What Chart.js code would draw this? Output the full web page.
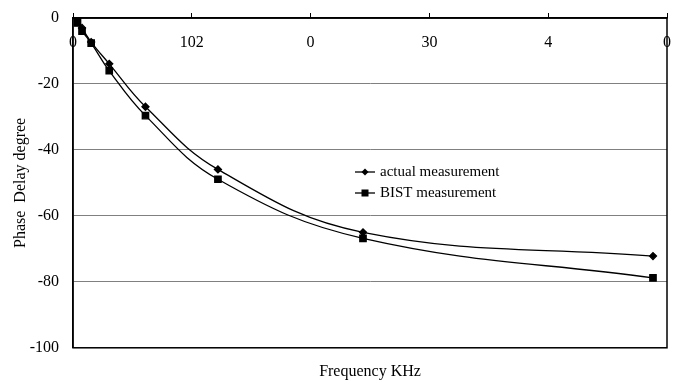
<!DOCTYPE html>
<html>
<head>
<meta charset="utf-8">
<script src="https://cdn.jsdelivr.net/npm/chart.js@4.4.1/dist/chart.umd.min.js"></script>
<style>
  html, body { margin: 0; padding: 0; background: #fff; }
  #wrap { width: 675px; height: 383px; }
</style>
</head>
<body>
<div id="wrap"><canvas id="chart" width="675" height="383"></canvas></div>
<script>
// Data
const freqPoints = [38, 76, 153, 305, 610, 1220, 2441, 4882];
const actualPhase = [0, -3, -7.3, -13.9, -26.9, -45.9, -65.0, -72.2];
const bistPhase = [-1.5, -4, -7.6, -16.0, -29.6, -48.9, -66.8, -78.8];
const xTickLabels = ['0', '102', '0', '30', '4', '0'];
const seriesNames = ['actual measurement', 'BIST measurement'];

const FONT = 'Liberation Serif, Times New Roman, serif';

function toXY(xs, ys) {
    return xs.map((x, i) => ({ x: x, y: ys[i] }));
}

// Box around the plot area
const frame = {
    id: 'frame',
    afterDraw(chart) {
        const a = chart.chartArea;
        const ctx = chart.ctx;
        ctx.save();
        ctx.strokeStyle = '#000';
        ctx.lineWidth = 1.5;
        ctx.strokeRect(a.left, a.top, a.right - a.left, a.bottom - a.top);
        ctx.restore();
    }
};

// Legend drawn inside the plot
const innerLegend = {
    id: 'innerLegend',
    afterDraw(chart) {
        const ctx = chart.ctx;
        ctx.save();
        ctx.font = '15px ' + FONT;
        ctx.textBaseline = 'middle';
        const x0 = 355, y0 = 172, gap = 21;
        chart.data.datasets.forEach((ds, i) => {
            const y = y0 + i * gap;
            ctx.strokeStyle = '#000';
            ctx.lineWidth = 1.3;
            ctx.beginPath();
            ctx.moveTo(x0, y);
            ctx.lineTo(x0 + 20, y);
            ctx.stroke();
            ctx.fillStyle = '#000';
            if (ds.pointStyle === 'rect') {
                ctx.fillRect(x0 + 6.5, y - 3.5, 7, 7);
            } else {
                ctx.beginPath();
                ctx.moveTo(x0 + 10, y - 3.5);
                ctx.lineTo(x0 + 13.5, y);
                ctx.lineTo(x0 + 10, y + 3.5);
                ctx.lineTo(x0 + 6.5, y);
                ctx.closePath();
                ctx.fill();
            }
            ctx.fillText(ds.label, x0 + 25, y);
        });
        ctx.restore();
    }
};

new Chart(document.getElementById('chart'), {
    type: 'scatter',
    data: {
        datasets: [
            {
                label: seriesNames[0],
                data: toXY(freqPoints, actualPhase),
                showLine: true,
                borderColor: '#000',
                backgroundColor: '#000',
                borderWidth: 1.3,
                tension: 0.4,
                pointStyle: 'rectRot',
                pointRadius: 3.5,
                pointHoverRadius: 3.5
            },
            {
                label: seriesNames[1],
                data: toXY(freqPoints, bistPhase),
                showLine: true,
                borderColor: '#000',
                backgroundColor: '#000',
                borderWidth: 1.3,
                tension: 0.4,
                pointStyle: 'rect',
                pointRadius: 4.5,
                pointHoverRadius: 4.5
            }
        ]
    },
    options: {
        responsive: false,
        animation: false,
        layout: { padding: { top: 0, right: 8, bottom: 0, left: 0 } },
        plugins: {
            legend: { display: false },
            tooltip: { enabled: false },
            title: {
                display: true,
                position: 'bottom',
                fullSize: false,
                text: 'Frequency KHz',
                color: '#000',
                font: { family: FONT, size: 16, weight: 'normal' },
                padding: { top: 14, bottom: 2 }
            }
        },
        scales: {
            x: {
                type: 'linear',
                position: 'top',
                min: 0,
                max: 5000,
                afterFit(s) {
                    s.height = 18;
                    s.paddingLeft = 0;
                    s.paddingRight = 0;
                },
                border: { display: true, color: '#000', width: 1.5 },
                grid: {
                    drawOnChartArea: false,
                    drawTicks: true,
                    tickLength: 5,
                    color: '#000'
                },
                ticks: {
                    stepSize: 1000,
                    mirror: true,
                    padding: 15,
                    color: '#000',
                    font: { family: FONT, size: 16 },
                    callback: (v) => xTickLabels[Math.round(v / 1000)]
                }
            },
            y: {
                min: -100,
                max: 0,
                afterFit(s) {
                    s.width = 73;
                    s.paddingTop = 0;
                    s.paddingBottom = 0;
                },
                border: { display: true, color: '#000', width: 1.5 },
                grid: {
                    drawTicks: false,
                    color: '#808080',
                    lineWidth: 1
                },
                ticks: {
                    stepSize: 20,
                    padding: 14,
                    color: '#000',
                    font: { family: FONT, size: 16 }
                },
                title: {
                    display: true,
                    text: 'Phase  Delay degree',
                    color: '#000',
                    font: { family: FONT, size: 16 },
                    padding: { top: 11, bottom: 0 }
                }
            }
        }
    },
    plugins: [frame, innerLegend]
});
</script>
</body>
</html>
